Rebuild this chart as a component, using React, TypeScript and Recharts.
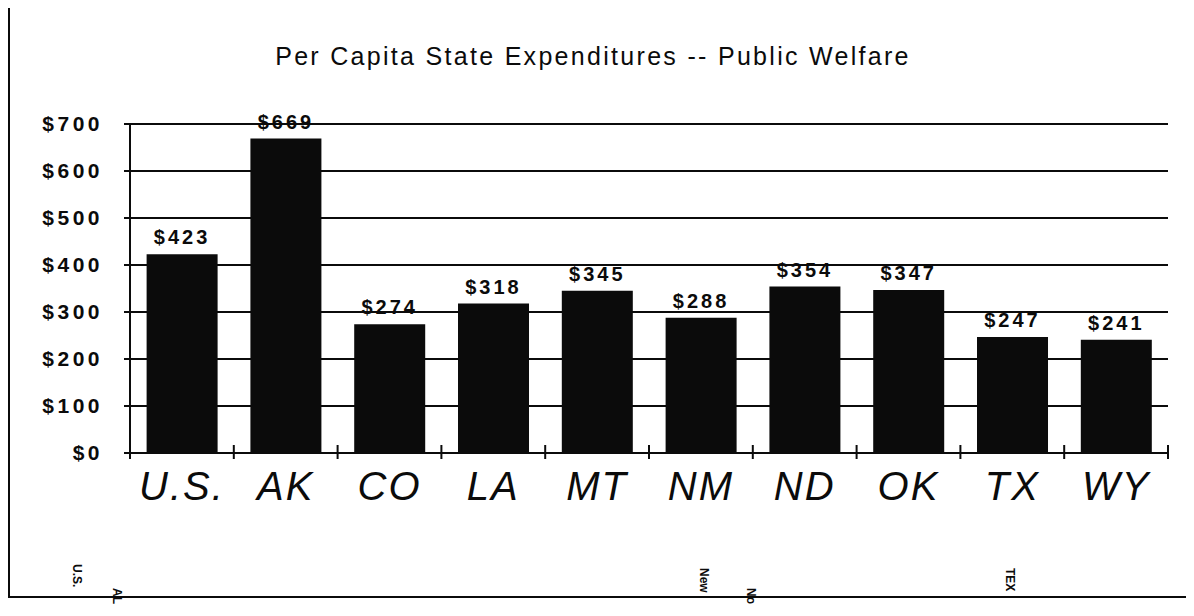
import { BarChart, Bar, XAxis, YAxis, CartesianGrid, LabelList } from "recharts"

const states = ["U.S.", "AK", "CO", "LA", "MT", "NM", "ND", "OK", "TX", "WY"]
const welfare = [423, 669, 274, 318, 345, 288, 354, 347, 247, 241]
const yTicks = [0, 100, 200, 300, 400, 500, 600, 700]

// stray rotated labels from the page underneath the scan
const strayLabels = [
  { text: "U.S.", left: 76, top: 556 },
  { text: "AL", left: 116, top: 580 },
  { text: "New", left: 703, top: 560 },
  { text: "No", left: 750, top: 580 },
  { text: "TEX", left: 1009, top: 560 },
]

const data = states.map((s, i) => ({ state: s, value: welfare[i] }))

const ink = "#0b0b0b"
const font = "'Liberation Sans', Arial, sans-serif"

function StateTick({ x, y, payload, index }: any) {
  const half = payload?.offset ?? 52
  const axisY = y - 8
  const last = index === states.length - 1
  return (
    <g>
      <line x1={x - half} x2={x - half} y1={axisY - 8} y2={axisY + 6} stroke={ink} strokeWidth={2} />
      {last && (
        <line x1={x + half} x2={x + half} y1={axisY - 8} y2={axisY + 6} stroke={ink} strokeWidth={2} />
      )}
      <text
        x={x}
        y={y + 39}
        textAnchor="middle"
        fill={ink}
        fontSize={40}
        fontStyle="italic"
        fontFamily={font}
        letterSpacing={2}
      >
        {payload.value}
      </text>
    </g>
  )
}

export default function App() {
  return (
    <div style={{ position: "relative", width: 1186, height: 600, background: "#fff" }}>
      <div
        style={{
          position: "absolute",
          left: 0,
          width: 1170,
          top: 36,
          textAlign: "center",
          fontFamily: font,
          fontSize: 25,
          letterSpacing: 2.3,
          lineHeight: 1,
          color: ink,
        }}
      >
        Per Capita State Expenditures -- Public Welfare
      </div>
      <BarChart
        width={1186}
        height={600}
        data={data}
        margin={{ top: 116, right: 26, bottom: 85, left: 22 }}
        barCategoryGap="16%"
      >
        <CartesianGrid horizontal vertical={false} stroke={ink} strokeWidth={2} />
        <YAxis
          domain={[0, 700]}
          ticks={yTicks}
          interval={0}
          width={100}
          axisLine={{ stroke: ink, strokeWidth: 2 }}
          tickLine={{ stroke: ink, strokeWidth: 2 }}
          tickSize={6}
          tickMargin={21}
          tickFormatter={(v) => `$${v}`}
          tick={{ fill: ink, fontSize: 21, fontWeight: "bold", fontFamily: font, letterSpacing: 3.5 }}
        />
        <XAxis
          dataKey="state"
          height={70}
          interval={0}
          axisLine={{ stroke: ink, strokeWidth: 2 }}
          tickLine={false}
          tickSize={6}
          tickMargin={2}
          tick={<StateTick />}
        />
        <Bar dataKey="value" fill={ink} isAnimationActive={false}>
          <LabelList
            dataKey="value"
            position="top"
            offset={10}
            formatter={(v: any) => `$${v}`}
            fill={ink}
            fontSize={20}
            fontWeight="bold"
            fontFamily={font}
            letterSpacing={3}
          />
        </Bar>
      </BarChart>
      <div style={{ position: "absolute", left: 0, top: -8, width: 2, height: 598, background: ink }} />
      <div style={{ position: "absolute", left: 0, top: 588, width: 1186, height: 2, background: ink }} />
      {strayLabels.map((l) => (
        <div
          key={l.text}
          style={{
            position: "absolute",
            left: l.left,
            top: l.top,
            transform: "rotate(90deg)",
            transformOrigin: "left top",
            fontFamily: font,
            fontSize: 12,
            fontWeight: "bold",
            color: ink,
            whiteSpace: "nowrap",
          }}
        >
          {l.text}
        </div>
      ))}
    </div>
  )
}
